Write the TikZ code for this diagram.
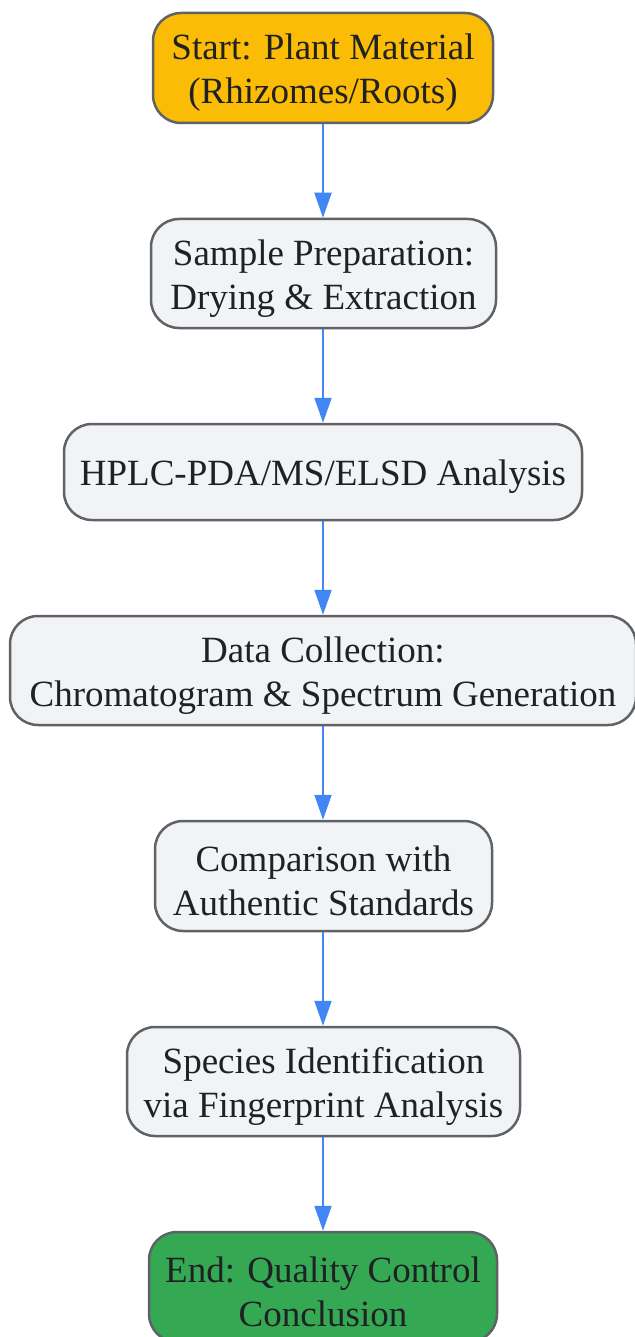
\documentclass[tikz,border=0pt]{standalone}
\usepackage{fontspec}
\setmainfont{Liberation Serif}
\usetikzlibrary{arrows.meta}
\definecolor{startfill}{HTML}{FBBC05}
\definecolor{procfill}{HTML}{F1F3F4}
\definecolor{endfill}{HTML}{34A853}
\definecolor{bordergray}{HTML}{5F6368}
\definecolor{textdark}{HTML}{202124}
\definecolor{arrowblue}{HTML}{4285F4}
\tikzset{
  box/.style={draw=bordergray, line width=2.5pt, rounded corners=28pt, inner sep=0pt},
  boxtext/.style={align=center, inner sep=0pt, text=textdark, yshift=-5pt,
    font={\fontsize{37}{44}\selectfont}},
  flow/.style={draw=arrowblue, line width=2pt, -{Triangle[length=25pt,width=17pt]}}
}
\begin{document}
\begin{tikzpicture}[x=1pt,y=1pt]
\useasboundingbox (0,0) rectangle (634,-1337);
\node[box, fill=startfill, minimum width=340pt, minimum height=110pt,
  label={[boxtext]center:{Start: Plant Material\\(Rhizomes/Roots)}}] (n1) at (323,-68) {};
\node[box, fill=procfill, minimum width=345pt, minimum height=109pt,
  label={[boxtext]center:{Sample Preparation:\\Drying \& Extraction}}] (n2) at (323.5,-273.5) {};
\node[box, fill=procfill, minimum width=518pt, minimum height=96pt,
  label={[boxtext]center:{HPLC-PDA/MS/ELSD Analysis}}] (n3) at (323,-472) {};
\node[box, fill=procfill, minimum width=626pt, minimum height=109pt,
  label={[boxtext]center:{Data Collection:\\Chromatogram \& Spectrum Generation}}] (n4) at (323,-670.5) {};
\node[box, fill=procfill, minimum width=337pt, minimum height=110pt,
  label={[boxtext]center:{Comparison with\\Authentic Standards}}] (n5) at (323.5,-876) {};
\node[box, fill=procfill, minimum width=393pt, minimum height=109pt,
  label={[boxtext]center:{Species Identification\\via Fingerprint Analysis}}] (n6) at (323.5,-1081.5) {};
\node[box, fill=endfill, minimum width=348pt, minimum height=110pt,
  label={[boxtext]center:{End: Quality Control\\Conclusion}}] (n7) at (323,-1287) {};
\draw[flow] (n1.south) -- (n1.south |- n2.north);
\draw[flow] (n2.south -| n1.south) -- (n1.south |- n3.north);
\draw[flow] (n3.south) -- (n4.north);
\draw[flow] (n4.south) -- (n4.south |- n5.north);
\draw[flow] (n5.south -| n4.south) -- (n4.south |- n6.north);
\draw[flow] (n6.south -| n7.south) -- (n7.north);
\end{tikzpicture}
\end{document}
